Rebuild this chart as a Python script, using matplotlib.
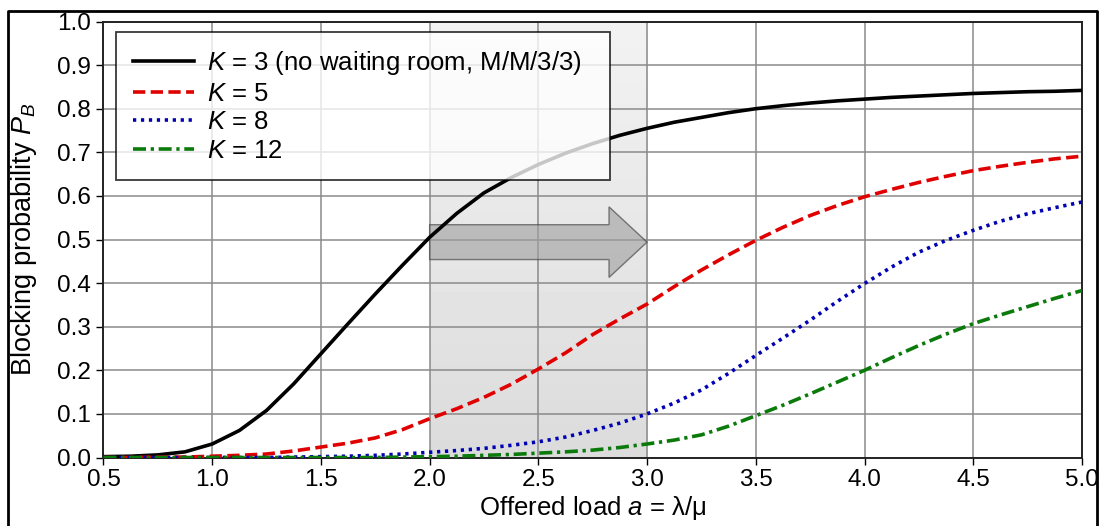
import numpy as np
import matplotlib
matplotlib.use("Agg")
import matplotlib.pyplot as plt
from matplotlib.lines import Line2D
from matplotlib.patches import Rectangle, FancyArrow

plt.rcParams['font.family'] = ['Liberation Sans', 'DejaVu Sans']
plt.rcParams['mathtext.fontset'] = 'custom'
plt.rcParams['mathtext.rm'] = 'Liberation Sans'
plt.rcParams['mathtext.it'] = 'Liberation Sans:italic'

# offered load a (step 0.125)
load = [0.5, 0.625, 0.75, 0.875, 1.0, 1.125, 1.25, 1.375, 1.5, 1.625, 1.75, 1.875,
        2.0, 2.125, 2.25, 2.375, 2.5, 2.625, 2.75, 2.875, 3.0, 3.125, 3.25, 3.375,
        3.5, 3.625, 3.75, 3.875, 4.0, 4.125, 4.25, 4.375, 4.5, 4.625, 4.75, 4.875, 5.0]

# blocking probability
pb_k3 = [0.002, 0.003, 0.006, 0.013, 0.031, 0.062, 0.108, 0.169, 0.238, 0.307, 0.375, 0.441,
         0.505, 0.560, 0.607, 0.642, 0.672, 0.698, 0.720, 0.739, 0.755, 0.769, 0.780, 0.791,
         0.800, 0.807, 0.813, 0.818, 0.822, 0.826, 0.829, 0.832, 0.835, 0.837, 0.839, 0.840, 0.842]
pb_k5 = [0.000, 0.000, 0.001, 0.001, 0.003, 0.005, 0.008, 0.015, 0.024, 0.033, 0.045, 0.064,
         0.089, 0.112, 0.138, 0.168, 0.203, 0.240, 0.282, 0.318, 0.352, 0.392, 0.430, 0.465,
         0.498, 0.528, 0.555, 0.578, 0.598, 0.615, 0.631, 0.645, 0.658, 0.668, 0.677, 0.685, 0.691]
pb_k8 = [0.000, 0.000, 0.000, 0.000, 0.000, 0.000, 0.000, 0.001, 0.002, 0.003, 0.005, 0.008,
         0.012, 0.016, 0.021, 0.028, 0.036, 0.047, 0.062, 0.079, 0.100, 0.125, 0.155, 0.193,
         0.234, 0.274, 0.315, 0.358, 0.399, 0.437, 0.471, 0.498, 0.521, 0.542, 0.559, 0.573, 0.586]
pb_k12 = [0.000, 0.000, 0.000, 0.000, 0.000, 0.000, 0.000, 0.000, 0.000, 0.000, 0.000, 0.001,
          0.002, 0.003, 0.005, 0.007, 0.010, 0.013, 0.017, 0.023, 0.031, 0.040, 0.052, 0.072,
          0.096, 0.120, 0.146, 0.173, 0.200, 0.229, 0.257, 0.283, 0.307, 0.327, 0.346, 0.365, 0.383]

labels = [r'$K$ = 3 (no waiting room, M/M/3/3)', r'$K$ = 5', r'$K$ = 8', r'$K$ = 12']

fig = plt.figure(figsize=(11.02, 5.26), dpi=100)
ax = fig.add_axes([0.0939, 0.1302, 0.8879, 0.8289])

# shaded band 2..3 with soft vertical gradient
grad = np.linspace(0.86, 0.95, 100).reshape(-1, 1)
ax.imshow(grad, extent=[2.0, 3.0, 0.0, 1.0], origin='lower', aspect='auto',
          cmap='gray', vmin=0, vmax=1, zorder=0.5)

ax.grid(True, color='#8a8a8a', lw=1.1, zorder=1)
ax.set_axisbelow(True)

arr = FancyArrow(2.0, 0.494, 1.0, 0.0, width=0.08, head_width=0.162, head_length=0.175,
                 length_includes_head=True, fc='#a0a0a0', ec='#3a3a3a', lw=1.0,
                 alpha=0.62, zorder=2)
ax.add_patch(arr)

lw = 2.6
ax.plot(load, pb_k3, color='black', lw=lw, label=labels[0], zorder=3)
ax.plot(load, pb_k5, color='#e00000', lw=lw, ls=(0, (3.4, 1.5)), label=labels[1], zorder=3)
ax.plot(load, pb_k8, color='#0000b4', lw=lw, ls=(0, (0.9, 1.3)), label=labels[2], zorder=3)
ax.plot(load, pb_k12, color='#0a7a0a', lw=lw, ls=(0, (3.6, 1.3, 0.9, 1.3)), label=labels[3], zorder=3)

ax.set_xlim(0.5, 5.0)
ax.set_ylim(0.0, 1.0)
ax.set_xticks(np.arange(0.5, 5.01, 0.5))
ax.set_yticks(np.arange(0.0, 1.01, 0.1))
ax.xaxis.set_major_formatter(matplotlib.ticker.FormatStrFormatter('%.1f'))
ax.yaxis.set_major_formatter(matplotlib.ticker.FormatStrFormatter('%.1f'))
ax.tick_params(axis='both', labelsize=17.5, direction='out', length=5, width=1.0)
ax.tick_params(axis='x', pad=3)
ax.tick_params(axis='y', pad=4)
for s in ax.spines.values():
    s.set_linewidth(1.4)
    s.set_color('#222222')

ax.set_xlabel(r'Offered load $a$ = λ/μ', fontsize=18.5)
ax.set_ylabel(r'Blocking probability $P_B$', fontsize=19.5)
ax.xaxis.set_label_coords(0.5, -0.084)
ax.yaxis.set_label_coords(-0.066, 0.5)

leg = ax.legend(loc='upper left', bbox_to_anchor=(0.0128, 0.631, 0.5053, 0.344),
                mode='expand', borderaxespad=0, fontsize=18.5, handlelength=2.4,
                labelspacing=0.18, borderpad=0.65, handletextpad=0.5, fancybox=False,
                framealpha=0.78, edgecolor='black')
leg.get_frame().set_linewidth(1.3)
leg.set_zorder(5)

# outer frame of the figure (right side clips the last tick label)
x0, x1, yt = 8 / 1102, 1097 / 1102, 1 - 11 / 526
fig.add_artist(Rectangle((x1, 0), 1 - x1, 1, transform=fig.transFigure,
                         color='white', zorder=10))
fig.add_artist(Line2D([x0, x0, x1, x1], [0, yt, yt, 0], transform=fig.transFigure,
                      color='black', lw=2.0, zorder=11))

fig.savefig('out.png', dpi=100)
